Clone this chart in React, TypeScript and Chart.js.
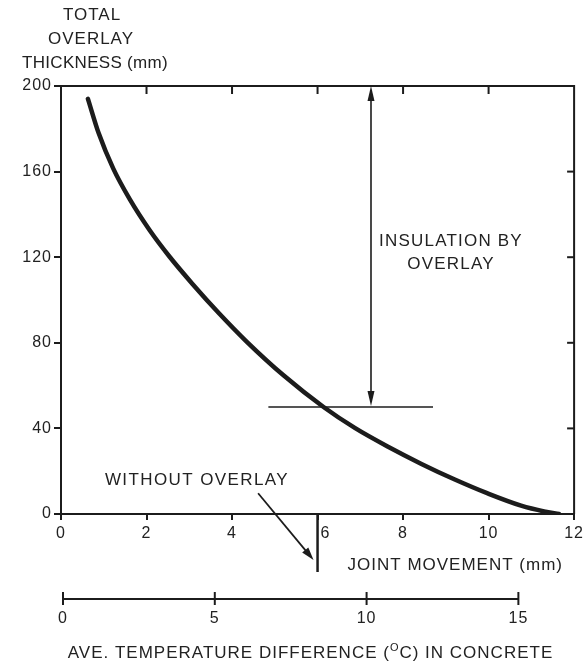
import { useEffect, useRef } from "react";
import { Chart, registerables } from "chart.js";

Chart.register(...registerables);

// Joint movement (mm) against total overlay thickness (mm)
const JOINT_MOVEMENT_MM = [0.63, 0.88, 1.22, 1.61, 2.07, 2.54, 3.08, 3.7, 4.34, 5.21, 6.14, 6.88, 7.66, 8.43, 9.21, 9.98, 10.76, 11.3, 11.65];
const OVERLAY_THICKNESS_MM = [194, 178, 161.5, 147, 132.7, 120.2, 107.4, 93.7, 80.6, 64.7, 50, 40.1, 31.3, 23.4, 16.1, 9.6, 3.9, 1.2, 0];

const X_TICKS = [0, 2, 4, 6, 8, 10, 12];
const Y_TICKS = [0, 40, 80, 120, 160, 200];
const TEMP_TICKS = [0, 5, 10, 15];
const MM_PER_DEG_C = 0.71;

const WITHOUT_OVERLAY_MM = 6;
const REFERENCE_THICKNESS_MM = 50;
const INSULATION_ARROW_MM = 7.25;
const REFERENCE_LINE_FROM_MM = 4.85;
const REFERENCE_LINE_TO_MM = 8.7;

const INK = "#1c1c1c";
const TEXT = "#222222";
const FONT = '"Liberation Sans", Arial, Helvetica, sans-serif';

function arrowHead(ctx: CanvasRenderingContext2D, tx: number, ty: number, angle: number, len: number, half: number) {
  ctx.save();
  ctx.translate(tx, ty);
  ctx.rotate(angle);
  ctx.beginPath();
  ctx.moveTo(0, 0);
  ctx.lineTo(-len, -half);
  ctx.lineTo(-len, half);
  ctx.closePath();
  ctx.fill();
  ctx.restore();
}

function line(ctx: CanvasRenderingContext2D, x1: number, y1: number, x2: number, y2: number) {
  ctx.beginPath();
  ctx.moveTo(x1, y1);
  ctx.lineTo(x2, y2);
  ctx.stroke();
}

function text(ctx: CanvasRenderingContext2D, s: string, x: number, y: number, size: number, spacing: number, align: CanvasTextAlign = "center") {
  ctx.font = `${size}px ${FONT}`;
  (ctx as any).letterSpacing = `${spacing}px`;
  ctx.textAlign = align;
  ctx.textBaseline = "middle";
  ctx.fillText(s, x, y);
}

const annotations = {
  id: "overlayAnnotations",
  beforeDraw(chart: Chart) {
    (chart.ctx as any).letterSpacing = "1px";
  },
  afterDraw(chart: Chart) {
    const { ctx, chartArea: a } = chart;
    const x = chart.scales.x;
    const y = chart.scales.y;
    ctx.save();
    ctx.strokeStyle = INK;
    ctx.fillStyle = INK;
    ctx.lineCap = "butt";

    // frame: top and right borders with inward ticks
    ctx.lineWidth = 2;
    ctx.beginPath();
    ctx.moveTo(a.left, a.top);
    ctx.lineTo(a.right, a.top);
    ctx.lineTo(a.right, a.bottom);
    ctx.stroke();
    X_TICKS.filter((v) => v > 0 && v < 12).forEach((v) => {
      const px = x.getPixelForValue(v);
      line(ctx, px, a.top, px, a.top + 8);
    });
    Y_TICKS.filter((v) => v > 0 && v < 200).forEach((v) => {
      const py = y.getPixelForValue(v);
      line(ctx, a.right, py, a.right - 7, py);
    });

    // reference overlay thickness line
    const yRef = y.getPixelForValue(REFERENCE_THICKNESS_MM);
    ctx.lineWidth = 1.6;
    line(ctx, x.getPixelForValue(REFERENCE_LINE_FROM_MM), yRef, x.getPixelForValue(REFERENCE_LINE_TO_MM), yRef);

    // insulation double arrow
    const ax = x.getPixelForValue(INSULATION_ARROW_MM);
    const yTop = y.getPixelForValue(200);
    ctx.lineWidth = 1.6;
    line(ctx, ax, yTop + 6, ax, yRef - 6);
    arrowHead(ctx, ax, yTop, -Math.PI / 2, 15, 3.5);
    arrowHead(ctx, ax, yRef - 1, Math.PI / 2, 15, 3.5);

    ctx.fillStyle = TEXT;
    text(ctx, "INSULATION BY", ax + 80, y.getPixelForValue(127.6), 17, 1.2);
    text(ctx, "OVERLAY", ax + 80, y.getPixelForValue(116.8), 17, 1.2);

    // joint movement without overlay
    const wx = x.getPixelForValue(WITHOUT_OVERLAY_MM);
    ctx.lineWidth = 2.5;
    line(ctx, wx, a.bottom, wx, a.bottom + 58);
    text(ctx, "WITHOUT OVERLAY", x.getPixelForValue(3.18), y.getPixelForValue(15.6), 17, 1.4);
    ctx.lineWidth = 1.8;
    const sx = x.getPixelForValue(4.61);
    const sy = y.getPixelForValue(9.7);
    const tx = wx - 4;
    const ty = a.bottom + 46;
    const ang = Math.atan2(ty - sy, tx - sx);
    line(ctx, sx, sy, tx - 10 * Math.cos(ang), ty - 10 * Math.sin(ang));
    ctx.fillStyle = INK;
    arrowHead(ctx, tx, ty, ang, 13, 4);

    ctx.fillStyle = TEXT;
    text(ctx, "6", wx + 3, a.bottom + 20, 16, 1, "left");
    text(ctx, "JOINT MOVEMENT (mm)", wx + 30, a.bottom + 51, 17, 1, "left");

    // temperature difference scale
    const ty0 = a.bottom + 85;
    const tPix = (d: number) => x.getPixelForValue(d * MM_PER_DEG_C) + 2;
    ctx.strokeStyle = INK;
    ctx.lineWidth = 2;
    line(ctx, tPix(TEMP_TICKS[0]), ty0, tPix(TEMP_TICKS[TEMP_TICKS.length - 1]), ty0);
    TEMP_TICKS.forEach((d) => {
      const px = tPix(d);
      line(ctx, px, ty0 - 7, px, ty0 + 6);
      text(ctx, String(d), px, ty0 + 20, 16, 1);
    });

    // temperature scale title with superscript degree mark
    const titleY = a.bottom + 139;
    const parts = ["AVE. TEMPERATURE DIFFERENCE (", "O", "C) IN CONCRETE"];
    ctx.font = `17px ${FONT}`;
    (ctx as any).letterSpacing = "1px";
    const w0 = ctx.measureText(parts[0]).width;
    const w2 = ctx.measureText(parts[2]).width;
    ctx.font = `11px ${FONT}`;
    const w1 = ctx.measureText(parts[1]).width;
    const startX = 310.5 - (w0 + w1 + w2) / 2;
    text(ctx, parts[0], startX, titleY, 17, 1, "left");
    text(ctx, parts[1], startX + w0, titleY - 5, 11, 1, "left");
    text(ctx, parts[2], startX + w0 + w1, titleY, 17, 1, "left");

    // vertical axis title
    text(ctx, "TOTAL", 92, 15, 17, 1);
    text(ctx, "OVERLAY", 91, 39, 17, 1);
    text(ctx, "THICKNESS (mm)", 95, 63, 17, 0.3);

    ctx.restore();
  },
};

export default function App() {
  const ref = useRef<HTMLCanvasElement>(null);

  useEffect(() => {
    if (!ref.current) return;
    Chart.defaults.font.family = FONT;
    const chart = new Chart(ref.current, {
      type: "line",
      data: {
        datasets: [
          {
            data: JOINT_MOVEMENT_MM.map((v, i) => ({ x: v, y: OVERLAY_THICKNESS_MM[i] })),
            borderColor: INK,
            borderWidth: 4.5,
            pointRadius: 0,
            cubicInterpolationMode: "monotone",
            borderCapStyle: "round",
            fill: false,
          },
        ],
      },
      options: {
        responsive: false,
        animation: false,
        layout: { padding: { top: 86, right: 8, left: 0, bottom: 0 } },
        plugins: { legend: { display: false }, tooltip: { enabled: false } },
        scales: {
          x: {
            type: "linear",
            min: 0,
            max: 12,
            afterFit: (s: any) => {
              s.height = 150;
            },
            afterBuildTicks: (s: any) => {
              s.ticks = X_TICKS.map((v) => ({ value: v }));
            },
            ticks: {
              callback: (v: any) => (v === WITHOUT_OVERLAY_MM ? "" : String(v)),
              color: TEXT,
              font: { size: 16 },
              padding: 4,
              maxRotation: 0,
            },
            grid: { drawOnChartArea: false, tickLength: 6, color: INK, lineWidth: 2 },
            border: { display: true, color: INK, width: 2 },
          },
          y: {
            type: "linear",
            min: 0,
            max: 200,
            afterFit: (s: any) => {
              s.width = 61;
            },
            afterBuildTicks: (s: any) => {
              s.ticks = Y_TICKS.map((v) => ({ value: v }));
            },
            ticks: { color: TEXT, font: { size: 16 }, padding: 2 },
            grid: { drawOnChartArea: false, tickLength: 7, color: INK, lineWidth: 2 },
            border: { display: true, color: INK, width: 2 },
          },
        },
      },
      plugins: [annotations],
    });
    return () => chart.destroy();
  }, []);

  return (
    <div style={{ position: "fixed", left: 0, top: 0, width: 587, height: 664, background: "#fff" }}>
      <canvas ref={ref} width={587} height={664} />
    </div>
  );
}
